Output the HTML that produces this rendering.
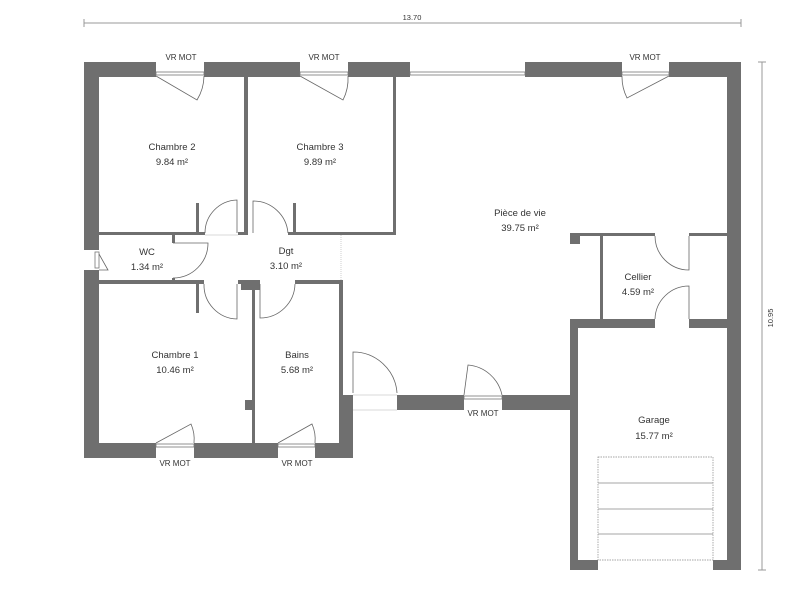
<!DOCTYPE html>
<html><head><meta charset="utf-8"><style>
html,body{margin:0;padding:0;background:#fff;}
svg{display:block;}
text{font-family:"Liberation Sans",sans-serif;fill:#333;}
</style></head><body>
<svg width="805" height="600" viewBox="0 0 805 600" xmlns="http://www.w3.org/2000/svg">
<g stroke="#999" stroke-width="1">
<line x1="84" y1="23" x2="741" y2="23"/><line x1="84" y1="19" x2="84" y2="27"/><line x1="741" y1="19" x2="741" y2="27"/>
<line x1="762" y1="62" x2="762" y2="570"/><line x1="758" y1="62" x2="766" y2="62"/><line x1="758" y1="570" x2="766" y2="570"/>
</g>
<text x="412" y="20" font-size="7.5" text-anchor="middle">13.70</text>
<text x="0" y="0" font-size="7.5" text-anchor="middle" transform="translate(773,318) rotate(-90)">10.95</text>
<g fill="#6f6f6f">
<rect x="84" y="62" width="72" height="15"/>
<rect x="204" y="62" width="96" height="15"/>
<rect x="348" y="62" width="62" height="15"/>
<rect x="525" y="62" width="97" height="15"/>
<rect x="669" y="62" width="72" height="15"/>
<rect x="84" y="62" width="15" height="188"/>
<rect x="84" y="270" width="15" height="188"/>
<rect x="84" y="443" width="72" height="15"/>
<rect x="194" y="443" width="84" height="15"/>
<rect x="315" y="443" width="38" height="15"/>
<rect x="339" y="395" width="14" height="63"/>
<rect x="397" y="395" width="67" height="15"/>
<rect x="502" y="395" width="76" height="15"/>
<rect x="727" y="62" width="14" height="508"/>
<rect x="570" y="320" width="8" height="250"/>
<rect x="570" y="560" width="28" height="10"/>
<rect x="713" y="560" width="28" height="10"/>
<rect x="570" y="319" width="85" height="9"/>
<rect x="689" y="319" width="52" height="9"/>
<rect x="570" y="233" width="85" height="3"/>
<rect x="689" y="233" width="38" height="3"/>
<rect x="570" y="233" width="10" height="11"/>
<rect x="600" y="235" width="3" height="85"/>
<rect x="244" y="77" width="4" height="158"/>
<rect x="393" y="77" width="3" height="158"/>
<rect x="99" y="232" width="106" height="3"/>
<rect x="238" y="232" width="10" height="3"/>
<rect x="288" y="232" width="108" height="3"/>
<rect x="196" y="203" width="3" height="32"/>
<rect x="293" y="203" width="3" height="32"/>
<rect x="172" y="235" width="3" height="8"/>
<rect x="172" y="278" width="3" height="3"/>
<rect x="99" y="280" width="105" height="4"/>
<rect x="238" y="280" width="22" height="4"/>
<rect x="295" y="280" width="48" height="4"/>
<rect x="196" y="284" width="3" height="29"/>
<rect x="241" y="281" width="19" height="9"/>
<rect x="252" y="284" width="3" height="160"/>
<rect x="245" y="400" width="7" height="10"/>
<rect x="339" y="280" width="4" height="115"/>
</g>
<line x1="341" y1="235" x2="341" y2="280" stroke="#bbb" stroke-width="0.7" stroke-dasharray="1,1"/>
<g fill="#fff" stroke="#777" stroke-width="0.8">
<rect x="156" y="72" width="48" height="3"/>
<rect x="300" y="72" width="48" height="3"/>
<rect x="410" y="72" width="115" height="3"/>
<rect x="622" y="72" width="47" height="3"/>
<rect x="156" y="444" width="38" height="3"/>
<rect x="278" y="444" width="37" height="3"/>
<rect x="464" y="396" width="38" height="3"/>
<rect x="95" y="252" width="4" height="16"/>
</g>
<g fill="none" stroke="#666" stroke-width="0.8">
<path d="M156 76 L197 100 A47 47 0 0 0 204 76"/>
<path d="M300 76 L343 100 A47 47 0 0 0 348 76"/>
<path d="M669 76 L627 98 A47 47 0 0 1 622 76"/>
<path d="M156 443 L191 424 A38 38 0 0 1 194 443"/>
<path d="M278 443 L312 424 A38 38 0 0 1 315 443"/>
<path d="M464 395 L468 365 A38 38 0 0 1 502 395"/>
<path d="M99 254 L108 270 L99 270"/>
<path d="M237 233 L237 200 A33 33 0 0 0 205 233"/>
<path d="M253 233 L253 201 A35 35 0 0 1 288 233"/>
<path d="M173 243 L208 243 A35 35 0 0 1 173 278"/>
<path d="M237 284 L237 319 A34 34 0 0 1 204 284"/>
<path d="M260 284 L260 318 A35 35 0 0 0 295 284"/>
<path d="M353 393 L353 352 A44 44 0 0 1 397 393"/>
<path d="M689 236 L689 270 A34 34 0 0 1 655 236"/>
<path d="M689 319 L689 286 A34 34 0 0 0 655 319"/>
</g>
<g fill="none" stroke="#ccc" stroke-width="0.7">
<line x1="205" y1="235" x2="238" y2="235"/>
<line x1="353" y1="395" x2="397" y2="395"/><line x1="353" y1="410" x2="397" y2="410"/>
</g>
<g fill="none" stroke="#888" stroke-width="0.7">
<rect x="598" y="457" width="115" height="103" stroke-dasharray="1.5,1"/>
<line x1="598" y1="483" x2="713" y2="483"/>
<line x1="598" y1="509" x2="713" y2="509"/>
<line x1="598" y1="534" x2="713" y2="534"/>
</g>
<g font-size="9.5" text-anchor="middle">
<text x="181" y="60" font-size="8">VR MOT</text>
<text x="324" y="60" font-size="8">VR MOT</text>
<text x="645" y="60" font-size="8">VR MOT</text>
<text x="175" y="466" font-size="8">VR MOT</text>
<text x="297" y="466" font-size="8">VR MOT</text>
<text x="483" y="416" font-size="8">VR MOT</text>
<text x="172" y="150">Chambre 2</text><text x="172" y="165">9.84 m²</text>
<text x="320" y="150">Chambre 3</text><text x="320" y="165">9.89 m²</text>
<text x="147" y="255">WC</text><text x="147" y="270">1.34 m²</text>
<text x="286" y="254">Dgt</text><text x="286" y="269">3.10 m²</text>
<text x="520" y="216">Pièce de vie</text><text x="520" y="231">39.75 m²</text>
<text x="638" y="280">Cellier</text><text x="638" y="295">4.59 m²</text>
<text x="175" y="358">Chambre 1</text><text x="175" y="373">10.46 m²</text>
<text x="297" y="358">Bains</text><text x="297" y="373">5.68 m²</text>
<text x="654" y="423">Garage</text><text x="654" y="439">15.77 m²</text>
</g>
</svg>
</body></html>
